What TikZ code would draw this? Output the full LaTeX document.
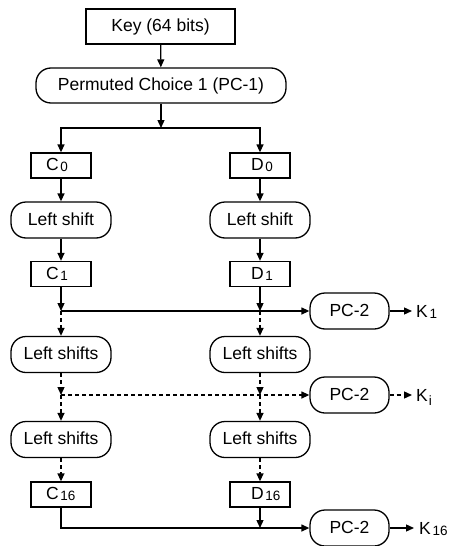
\documentclass[tikz,border=0pt]{standalone}
\usepackage{fontspec}
\setmainfont{Liberation Sans}
\usetikzlibrary{arrows.meta}

% small index set just after a letter (C0, D16, K1 ...)
\newcommand{\lowidx}[1]{\kern1.8pt{\fontsize{13.5}{13.5}\selectfont\raisebox{-1pt}{#1}}}
% index dropped well below the baseline (Ki)
\newcommand{\dropidx}[1]{\kern1pt{\fontsize{13.5}{13.5}\selectfont\raisebox{-4.5pt}{#1}}}

\begin{document}
\begin{tikzpicture}[x=1pt,y=-1pt,
  >={Triangle[length=8pt,width=7pt]},
  every node/.style={font=\fontsize{17.5}{20}\selectfont, inner sep=0pt,
    text height=11.5pt, text depth=1pt},
  flow/.style={line width=1.3pt},
  dashflow/.style={flow, dash pattern=on 4pt off 3pt},
  plainbox/.style={draw, line width=1.3pt},
  roundbox/.style={draw, line width=1.3pt, rounded corners=15pt},
  halfbox/.style={plainbox, minimum height=25pt, inner xsep=15pt},
  shiftbox/.style={roundbox, minimum width=100pt, minimum height=36pt},
  pcbox/.style={roundbox, minimum width=79pt, minimum height=36pt},
  keylabel/.style={anchor=west, text height=12.5pt, text depth=0pt}
]
\useasboundingbox (0,0) rectangle (448,546);

% key and first permutation
\node[plainbox, minimum width=149pt, minimum height=35pt] (key) at (160.5,26.5) {Key (64 bits)};
\node[roundbox, minimum width=250pt, minimum height=35pt] (pc1) at (161,85.5) {Permuted Choice 1 (PC-1)};
\coordinate (split) at (161,128);

% left half (C) column
\node[halfbox] (c0)  at (61,165.5) {\makebox[30pt][l]{C\lowidx{0}}};
\node[shiftbox] (ls1l) at (61,220) {Left shift};
\node[halfbox] (c1)  at (61,274) {\makebox[30pt][l]{C\lowidx{1}}};
\node[shiftbox] (ls2l) at (61,354.5) {Left shifts};
\node[shiftbox] (ls3l) at (61,439.5) {Left shifts};
\node[halfbox] (c16) at (61,494.5) {\makebox[30pt][l]{C\lowidx{16}}};

% right half (D) column
\node[halfbox] (d0)  at (260,165.5) {\makebox[30pt][l]{\hspace*{6pt}D\lowidx{0}}};
\node[shiftbox] (ls1r) at (260,220) {Left shift};
\node[halfbox] (d1)  at (260,274) {\makebox[30pt][l]{\hspace*{6pt}D\lowidx{1}}};
\node[shiftbox] (ls2r) at (260,354.5) {Left shifts};
\node[shiftbox] (ls3r) at (260,439.5) {Left shifts};
\node[halfbox] (d16) at (260,494.5) {\makebox[30pt][l]{\hspace*{6pt}D\lowidx{16}}};

% second permutation for each round key
\node[pcbox] (pc2a) at (349.5,311) {PC-2};
\node[pcbox] (pc2i) at (349.5,395) {PC-2};
\node[pcbox] (pc2z) at (349.5,528) {PC-2};

% junctions where both halves meet the PC-2 feed lines
\coordinate (j1l) at (61,311);
\coordinate (j1r) at (260,311);
\coordinate (j2l) at (61,395);
\coordinate (j2r) at (260,395);
\coordinate (j3r) at (260,528);

% round key outputs
\coordinate (ka) at (412,311);
\coordinate (ki) at (412,395);
\coordinate (kz) at (414,528);
\node[keylabel] (k1)  at (416,311) {K\lowidx{1}};
\node[keylabel] (kit) at (416,395) {K\dropidx{i}};
\node[keylabel] (k16) at (419,528) {K\lowidx{16}};

% top part
\draw[flow,->] (key) -- (pc1);
\draw[flow,->] (pc1) -- (split);
\draw[flow,->] (split) -| (c0.north);
\draw[flow,->] (split) -| (d0.north);

\draw[flow,->] (c0) -- (ls1l);
\draw[flow,->] (ls1l) -- (c1);
\draw[flow,->] (d0) -- (ls1r);
\draw[flow,->] (ls1r) -- (d1);

% round 1
\draw[flow,->] (c1) -- (j1l);
\draw[flow,->] (d1) -- (j1r);
\draw[flow,->] (j1l) -- (pc2a.west);
\draw[flow,->] (pc2a.east) -- (ka);

% intermediate rounds
\draw[dashflow,->] (j1l) -- (ls2l);
\draw[dashflow,->] (j1r) -- (ls2r);
\draw[dashflow,->] (ls2l) -- (j2l);
\draw[dashflow,->] (ls2r) -- (j2r);
\draw[dashflow,->] (j2l) -- (pc2i.west);
\draw[dashflow,->] (pc2i.east) -- (ki);
\draw[dashflow,->] (j2l) -- (ls3l);
\draw[dashflow,->] (j2r) -- (ls3r);
\draw[dashflow,->] (ls3l) -- (c16);
\draw[dashflow,->] (ls3r) -- (d16);

% round 16
\draw[flow,->] (c16.south) |- (pc2z.west);
\draw[flow,->] (d16) -- (j3r);
\draw[flow,->] (pc2z.east) -- (kz);
\end{tikzpicture}
\end{document}
